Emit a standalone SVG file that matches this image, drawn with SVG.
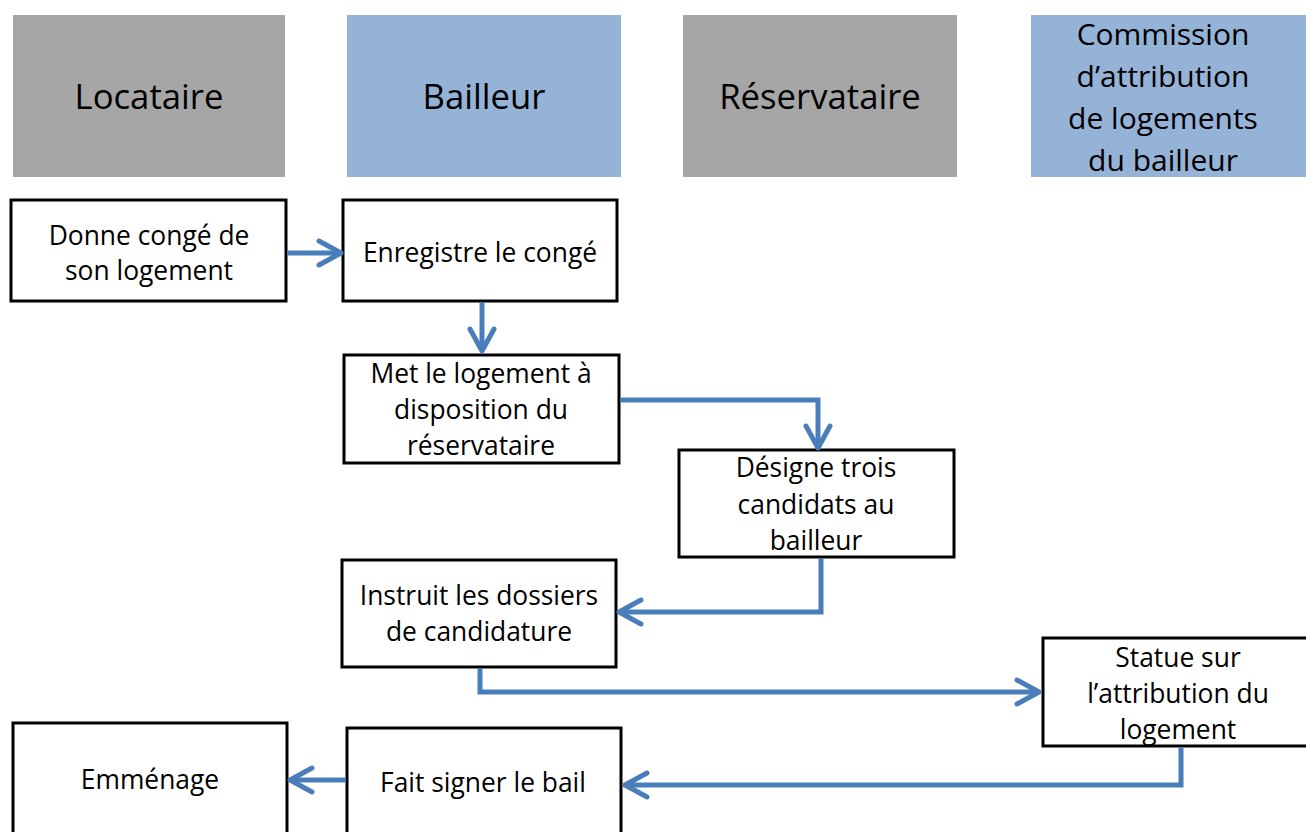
<svg xmlns="http://www.w3.org/2000/svg" width="1306" height="832" viewBox="0 0 1306 832">
<style>
.hg{fill:#a6a6a6}
.hb{fill:#95b3d7}
.ht{font-family:"Open Sans",Lato,sans-serif;font-size:34.7px;fill:#000;text-anchor:middle}
.hs{font-size:30px}
.box{fill:#fff;stroke:#000;stroke-width:3}
.bt{font-family:"Open Sans",Lato,sans-serif;font-size:26.4px;fill:#000;text-anchor:middle}
.c{fill:none;stroke:#4a7ebb;stroke-width:5;marker-end:url(#ah)}
</style>
<defs>
<marker id="ah" markerUnits="userSpaceOnUse" markerWidth="40" markerHeight="40" viewBox="-30 -20 40 40" refX="0" refY="0" orient="auto">
<path d="M-22,-12 L0,0 L-22,12" fill="none" stroke="#4a7ebb" stroke-width="5" stroke-linecap="round" stroke-linejoin="round"/>
</marker>
</defs>
<rect width="1306" height="832" fill="#fff"/>
<g id="h-locataire"><rect class="hg" x="13" y="15" width="272" height="162"/><text class="ht" x="149" y="109">Locataire</text></g>
<g id="h-bailleur"><rect class="hb" x="347" y="15" width="274" height="162"/><text class="ht" x="484" y="109">Bailleur</text></g>
<g id="h-reservataire"><rect class="hg" x="683" y="15" width="274" height="162"/><text class="ht" x="820" y="109">Réservataire</text></g>
<g id="h-commission"><rect class="hb" x="1031" y="15" width="275" height="162"/>
<text class="ht hs" x="1163" y="45">Commission</text>
<text class="ht hs" x="1163" y="87">d’attribution</text>
<text class="ht hs" x="1163" y="129">de logements</text>
<text class="ht hs" x="1163" y="171">du bailleur</text></g>

<g id="n1"><rect class="box" x="11" y="200" width="275" height="101"/><text class="bt" x="149" y="245">Donne congé de</text><text class="bt" x="149" y="280">son logement</text></g>
<g id="n2"><rect class="box" x="343" y="200" width="274" height="101"/><text class="bt" x="480" y="262">Enregistre le congé</text></g>
<g id="n3"><rect class="box" x="344" y="355" width="275" height="108"/><text class="bt" x="481" y="383">Met le logement à</text><text class="bt" x="481" y="419">disposition du</text><text class="bt" x="481" y="455">réservataire</text></g>
<g id="n4"><rect class="box" x="679" y="450" width="275" height="107"/><text class="bt" x="816" y="477">Désigne trois</text><text class="bt" x="816" y="514">candidats au</text><text class="bt" x="816" y="550">bailleur</text></g>
<g id="n5"><rect class="box" x="342" y="560" width="274" height="107"/><text class="bt" x="479" y="605">Instruit les dossiers</text><text class="bt" x="479" y="641">de candidature</text></g>
<g id="n6"><rect class="box" x="1043" y="638" width="266" height="108"/><text class="bt" x="1178" y="667">Statue sur</text><text class="bt" x="1178" y="703">l’attribution du</text><text class="bt" x="1178" y="739">logement</text></g>
<g id="n7"><rect class="box" x="13" y="723" width="274" height="112"/><text class="bt" x="150" y="789">Emménage</text></g>
<g id="n8"><rect class="box" x="347" y="728" width="274" height="107"/><text class="bt" x="483" y="792">Fait signer le bail</text></g>

<g id="connectors">
<path class="c" d="M287,253 H341"/>
<path class="c" d="M482,302 V351"/>
<path class="c" d="M620,400 H818 V448"/>
<path class="c" d="M821,558 V612 H619"/>
<path class="c" d="M480,668 V692 H1039"/>
<path class="c" d="M1181,747 V785 H625"/>
<path class="c" d="M346,780 H290"/>
</g>
</svg>
